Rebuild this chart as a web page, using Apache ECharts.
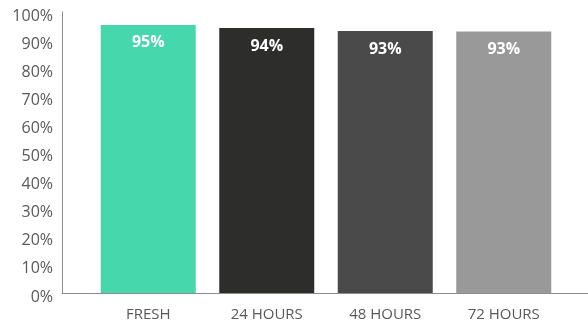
<!DOCTYPE html>
<html><head><meta charset="utf-8">
<script src="https://cdn.jsdelivr.net/npm/echarts@6/dist/echarts.min.js"></script>
<style>html,body{margin:0;padding:0;background:#fff}#c{width:588px;height:324px}</style>
</head><body><div id="c"></div>
<script>
const categories = ['FRESH', '24 HOURS', '48 HOURS', '72 HOURS'];
const values = [0.954, 0.943, 0.932, 0.931];
const barColors = ['#47D7AC', '#2D2D2B', '#4A4A4A', '#999999'];
const yTickLabels = ['0%', '10%', '20%', '30%', '40%', '50%', '60%', '70%', '80%', '90%', '100%'];

const chart = echarts.init(document.getElementById('c'));
const font = '"Open Sans", sans-serif';
const pct = v => Math.round(v * 100) + '%';
chart.setOption({
  animation: false,
  grid: [
    {left: 89, right: 25, top: 12, bottom: 31},
    {left: 62, right: 0, top: 12, bottom: 31},
    {left: 62, right: 0, top: 16, bottom: 27}
  ],
  xAxis: [
    {type: 'category', gridIndex: 0, data: categories,
     axisLine: {show: false}, axisTick: {show: false},
     axisLabel: {color: '#595959', fontFamily: font, fontSize: 15, margin: 14}},
    {type: 'value', gridIndex: 1, min: 0, max: 1,
     axisLine: {show: true, lineStyle: {color: '#8C8C8C', width: 1}},
     axisTick: {show: false}, axisLabel: {show: false}, splitLine: {show: false}},
    {type: 'value', gridIndex: 2, min: 0, max: 1, show: false}
  ],
  yAxis: [
    {type: 'value', gridIndex: 0, min: 0, max: 1, interval: 0.1, show: false},
    {type: 'value', gridIndex: 1, min: 0, max: 1, interval: 0.1,
     axisLine: {show: true, lineStyle: {color: '#8C8C8C', width: 1}},
     axisTick: {show: false}, splitLine: {show: false}, axisLabel: {show: false}},
    {type: 'value', gridIndex: 2, min: 0, max: 1, interval: 0.1,
     axisLine: {show: false}, axisTick: {show: false}, splitLine: {show: false},
     axisLabel: {color: '#595959', fontFamily: font, fontSize: 16, margin: 9,
       formatter: v => yTickLabels[Math.round(v * 10)]}}
  ],
  series: [{
    type: 'bar', xAxisIndex: 0, yAxisIndex: 0, barWidth: 95,
    data: values.map((v, i) => ({value: v, itemStyle: {color: barColors[i]}})),
    label: {show: true, position: 'insideTop', distance: 10, color: '#fff',
      fontFamily: font, fontWeight: 'bold', fontSize: 16,
      formatter: p => pct(p.value)}
  }]
});
</script></body></html>
